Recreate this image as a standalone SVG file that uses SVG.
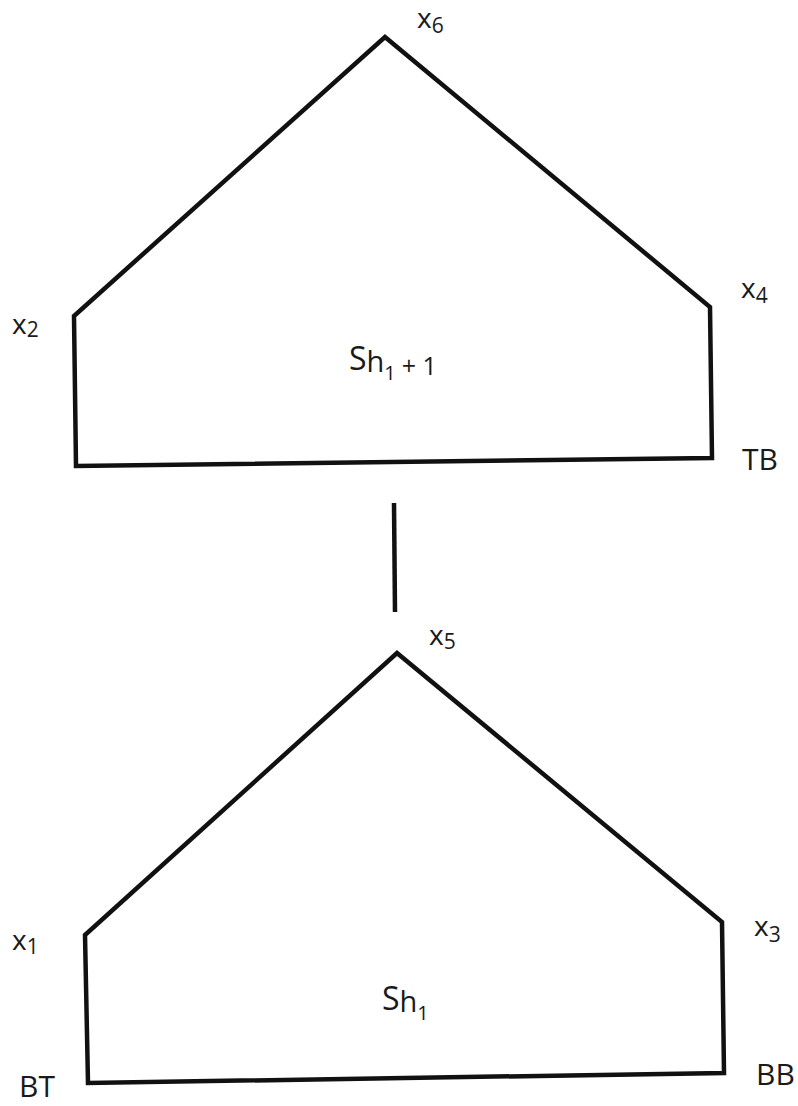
<svg xmlns="http://www.w3.org/2000/svg" width="798" height="1106" viewBox="0 0 798 1106">
<style>
.s{fill:none;stroke:#111;stroke-width:4.5;stroke-linejoin:miter}
.t{font-family:"Open Sans","Noto Sans",sans-serif;font-size:28px;fill:#1a1a1a}
.c{font-size:30px}
.sub{font-size:21px}
.S{font-size:32px}
.h{font-size:29px}
.i{font-size:20px}
.p{font-size:25px}
</style>
<rect width="798" height="1106" fill="#fff"/>
<g id="top">
<polygon class="s" points="385,37 710,307 712,458 76,466 74,316"/>
<text class="t S" x="349" y="370">S<tspan class="h" dy="2">h</tspan><tspan class="i" dy="8">1</tspan><tspan class="p" dy="-5" dx="6">+ 1</tspan></text>
</g>
<g id="bottom">
<polygon class="s" points="397,653 722,922 724,1073 88,1083 85,935"/>
<text class="t S" x="382" y="1010">S<tspan class="h" dy="2">h</tspan><tspan class="i" dy="8">1</tspan></text>
</g>
<g id="labels">
<text class="t" x="417" y="28">x<tspan class="sub" dy="5">6</tspan></text>
<text class="t" x="12" y="334">x<tspan class="sub" dy="3">2</tspan></text>
<text class="t" x="741" y="298">x<tspan class="sub" dy="5">4</tspan></text>
<text class="t c" x="742" y="470">TB</text>
<text class="t" x="429" y="645">x<tspan class="sub" dy="4">5</tspan></text>
<text class="t" x="12" y="950">x<tspan class="sub" dy="4">1</tspan></text>
<text class="t" x="754" y="936">x<tspan class="sub" dy="6">3</tspan></text>
<text class="t c" x="19" y="1097">BT</text>
<text class="t c" x="756" y="1085">BB</text>
</g>
<g id="connectors">
<line class="s" x1="394" y1="503" x2="395" y2="612"/>
</g>
</svg>
